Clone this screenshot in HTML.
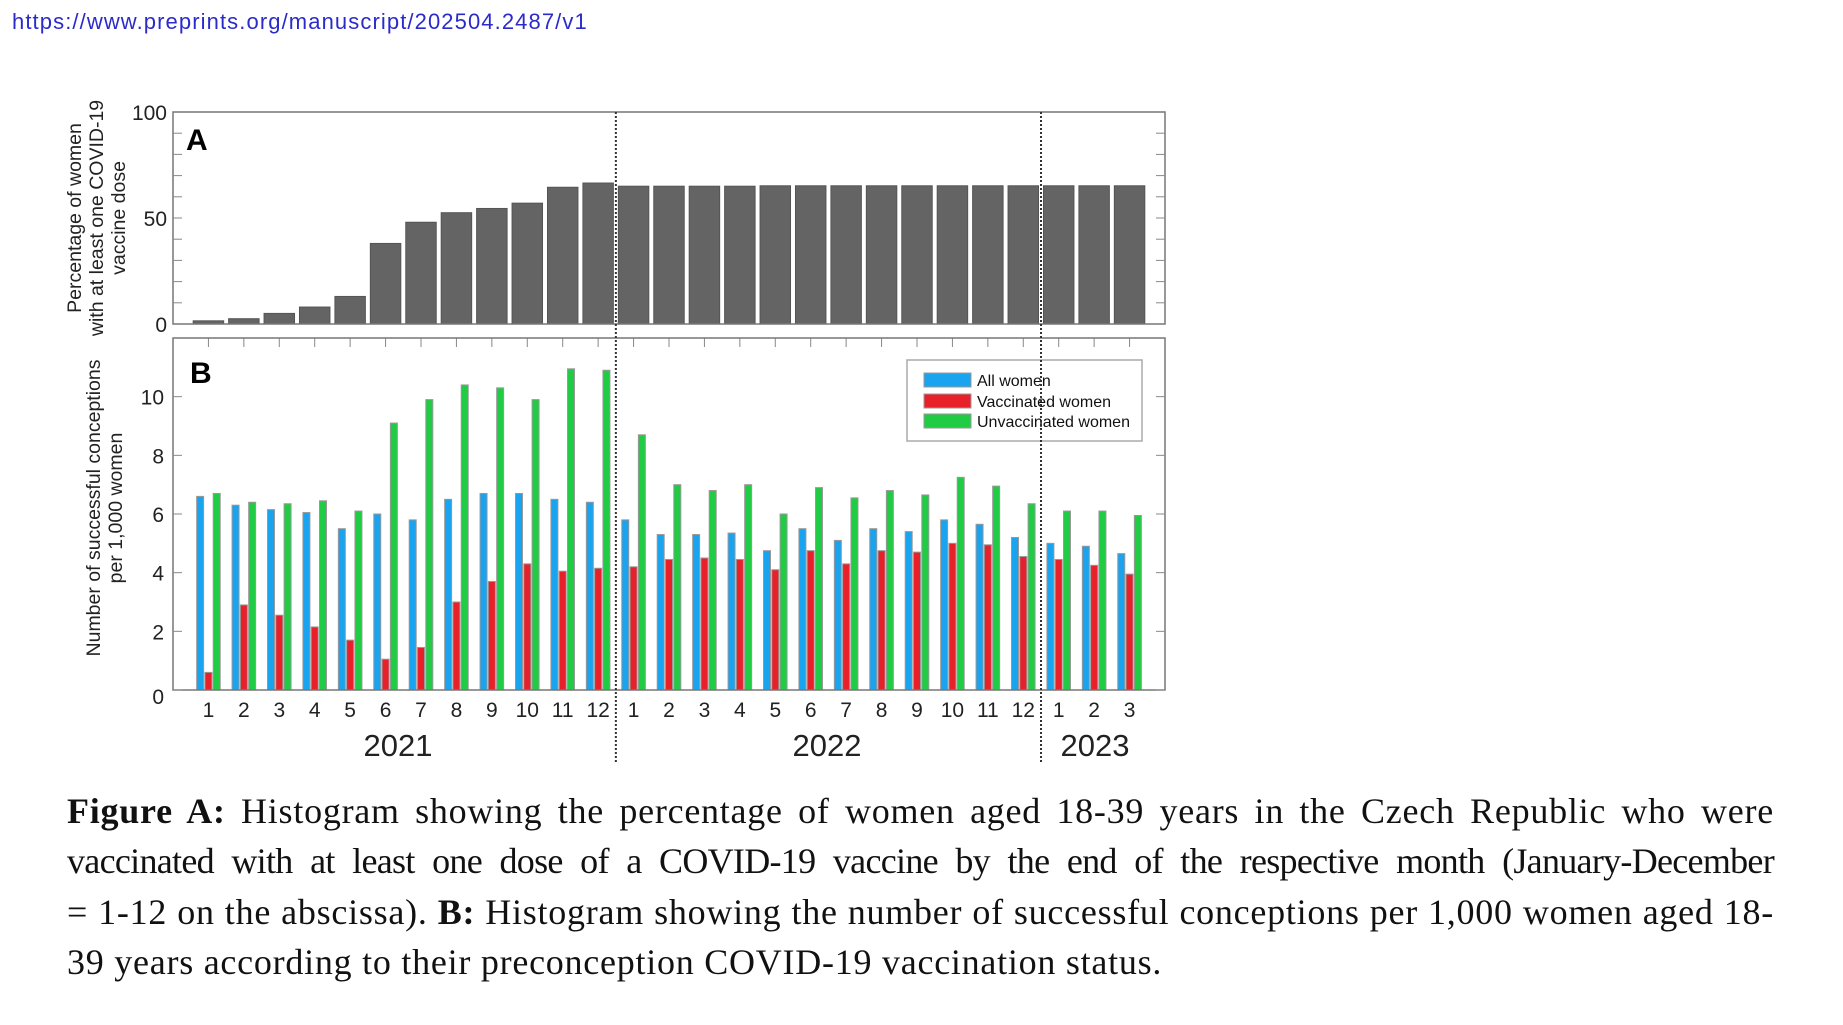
<!DOCTYPE html>
<html><head><meta charset="utf-8"><style>
body{margin:0;width:1843px;height:1025px;background:#fff;overflow:hidden;position:relative;font-family:"Liberation Sans",sans-serif}
.url{position:absolute;left:12px;top:9px;font-size:22px;letter-spacing:1.1px;color:#2b2bcc}
.cap{position:absolute;left:67px;width:1707px;font-family:"Liberation Serif",serif;font-size:36px;letter-spacing:0.75px;color:#111;white-space:nowrap}
.j{text-align:justify;text-align-last:justify;white-space:normal}
</style></head><body>
<div class="url">https://www.preprints.org/manuscript/202504.2487/v1</div>
<svg width="1843" height="1025" style="position:absolute;left:0;top:0" id="s" font-family="Liberation Sans, sans-serif"></svg>
<div class="cap j" style="top:790px"><b>Figure A:</b> Histogram showing the percentage of women aged 18-39 years in the Czech Republic who were</div>
<div class="cap j" style="top:840px;letter-spacing:-0.7px">vaccinated with at least one dose of a COVID-19 vaccine by the end of the respective month (January-December</div>
<div class="cap j" style="top:891px">= 1-12 on the abscissa). <b>B:</b> Histogram showing the number of successful conceptions per 1,000 women aged 18-</div>
<div class="cap" style="top:941px">39 years according to their preconception COVID-19 vaccination status.</div>
<script>
const s=document.getElementById('s');let h='';
const L=173,R=1165,dx=(R-L)/28;
const X=m=>L+m*dx;
const aT=112,aB=324,ya=v=>aB-(aB-aT)*v/100;
const A=[1.5,2.5,5,8,13,38,48,52.5,54.5,57,64.5,66.5,65,65,65,65,65.2,65.2,65.2,65.2,65.2,65.2,65.2,65.2,65.2,65.2,65.2];
A.forEach((v,i)=>{const w=dx*0.86;h+=`<rect x="${X(i+1)-w/2}" y="${ya(v)}" width="${w}" height="${aB-ya(v)}" fill="#646464" stroke="#555" stroke-width="1"/>`});
h+=`<rect x="${L}" y="${aT}" width="${R-L}" height="${aB-aT}" fill="none" stroke="#777" stroke-width="1.5"/>`;
for(let v=10;v<100;v+=10){h+=`<line x1="${L}" x2="${L+9}" y1="${ya(v)}" y2="${ya(v)}" stroke="#888"/><line x1="${R}" x2="${R-9}" y1="${ya(v)}" y2="${ya(v)}" stroke="#888"/>`}
[[0,'0'],[50,'50'],[100,'100']].forEach(([v,t])=>h+=`<text x="167" y="${ya(v)+8}" font-size="21" text-anchor="end" fill="#222">${t}</text>`);
h+=`<text x="186" y="150" font-size="30" font-weight="bold">A</text>`;
h+=`<g transform="translate(81,218) rotate(-90)" font-size="19.5" text-anchor="middle" fill="#222"><text x="0" y="0">Percentage of women</text><text x="0" y="22">with at least one COVID-19</text><text x="0" y="44">vaccine dose</text></g>`;
const bT=338,bB=690,yb=v=>bB-(bB-bT)*v/12;
const Bl=[6.6,6.3,6.15,6.05,5.5,6.0,5.8,6.5,6.7,6.7,6.5,6.4,5.8,5.3,5.3,5.35,4.75,5.5,5.1,5.5,5.4,5.8,5.65,5.2,5.0,4.9,4.65];
const Rd=[0.6,2.9,2.55,2.15,1.7,1.05,1.45,3.0,3.7,4.3,4.05,4.15,4.2,4.45,4.5,4.45,4.1,4.75,4.3,4.75,4.7,5.0,4.95,4.55,4.45,4.25,3.95];
const Gr=[6.7,6.4,6.35,6.45,6.1,9.1,9.9,10.4,10.3,9.9,10.95,10.9,8.7,7.0,6.8,7.0,6.0,6.9,6.55,6.8,6.65,7.25,6.95,6.35,6.1,6.1,5.95];
const bar=(x,v,c)=>`<rect x="${x-3.5}" y="${yb(v)}" width="7" height="${bB-yb(v)}" fill="${c}" stroke="#999" stroke-width="1"/>`;
for(let i=0;i<27;i++){const c=X(i+1);h+=bar(c-8.3,Bl[i],'#1aa3ee')+bar(c,Rd[i],'#e8202a')+bar(c+8.3,Gr[i],'#20cc44');
 h+=`<line x1="${c}" x2="${c}" y1="${bT}" y2="${bT+9}" stroke="#888"/>`;
 h+=`<text x="${c}" y="717" font-size="21" text-anchor="middle" fill="#222">${(i%12)+1}</text>`;}
h+=`<rect x="${L}" y="${bT}" width="${R-L}" height="${bB-bT}" fill="none" stroke="#777" stroke-width="1.5"/>`;
for(let v=0;v<=10;v+=2){h+=`<line x1="${L}" x2="${L+9}" y1="${yb(v)}" y2="${yb(v)}" stroke="#888"/><line x1="${R}" x2="${R-9}" y1="${yb(v)}" y2="${yb(v)}" stroke="#888"/>`;
 h+=`<text x="164" y="${yb(v)+8+(v==0?6:0)}" font-size="21" text-anchor="end" fill="#222">${v}</text>`}
h+=`<text x="190" y="383" font-size="30" font-weight="bold">B</text>`;
h+=`<g transform="translate(98,508) rotate(-90)" font-size="19.5" text-anchor="middle" fill="#222"><text x="0" y="2">Number of successful conceptions</text><text x="0" y="24">per 1,000 women</text></g>`;
h+=`<rect x="907" y="360" width="235" height="81" fill="#fff" stroke="#aaa" stroke-width="1.5"/>`;
[['#1aa3ee','All women',380],['#e8202a','Vaccinated women',401],['#20cc44','Unvaccinated women',421]].forEach(([c,t,y])=>h+=`<rect x="924" y="${y-7}" width="47" height="14" fill="${c}" stroke="#999"/><text x="977" y="${y+6}" font-size="16" fill="#111">${t}</text>`);
[12.5,24.5].forEach(m=>h+=`<line x1="${X(m)}" x2="${X(m)}" y1="${aT}" y2="762" stroke="#333" stroke-width="2" stroke-dasharray="2,2"/>`);
[['2021',398],['2022',827],['2023',1095]].forEach(([t,x])=>h+=`<text x="${x}" y="756" font-size="31" text-anchor="middle" fill="#222">${t}</text>`);
s.innerHTML=h;
</script>
</body></html>
